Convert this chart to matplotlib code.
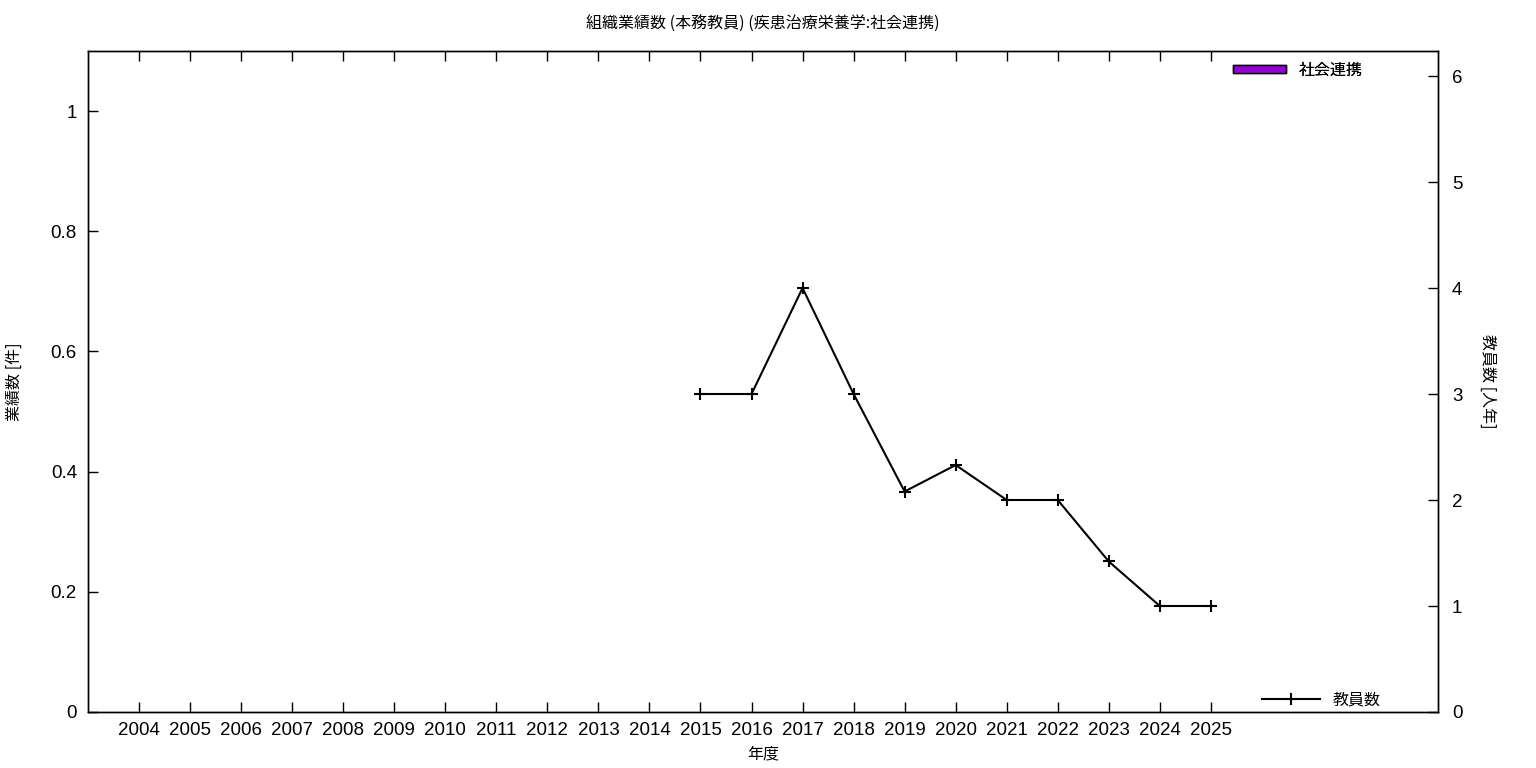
import numpy as np
import matplotlib.pyplot as plt
from matplotlib.patches import Patch
from matplotlib.lines import Line2D

plt.rcParams['font.family'] = ['Noto Sans CJK JP', 'DejaVu Sans']

years = [str(y) for y in range(2004, 2026)]
# 社会連携 output counts (all zero in this chart)
renkei = [0] * len(years)
# faculty count (person-years), from 2015 on
staff_years = ['2015', '2016', '2017', '2018', '2019', '2020', '2021', '2022', '2023', '2024', '2025']
staff = [3, 3, 4, 3, 2.08, 2.33, 2, 2, 1.42, 1, 1]

fig = plt.figure(figsize=(15.36, 7.68), dpi=100)
ax = fig.add_axes([88 / 1536, 1 - 712 / 768, (1438 - 88) / 1536, (712 - 51) / 768])
ax2 = ax.twinx()

num_font = ['Liberation Sans', 'DejaVu Sans']

x = np.arange(len(years))
ax.bar(x, renkei, width=0.5, color='#9400d3', edgecolor='none')
ax.set_xlim(-1, 25.45)
ax.set_ylim(0, 1.1)
ax.set_yticks([0, 0.2, 0.4, 0.6, 0.8, 1])
ax.set_yticklabels(['0', '0.2', '0.4', '0.6', '0.8', '1'], family=num_font)
ax.set_xticks(x)
ax.set_xticklabels(years, family=num_font)
ax.tick_params(axis='x', direction='in', length=7, top=True, labelsize=13.5, pad=7, width=1)
ax.tick_params(axis='y', direction='in', length=7, labelsize=13.5, pad=8, width=1)

sx = [years.index(y) for y in staff_years]
ax2.plot(sx, staff, color='black', linewidth=1.5, marker='+', markersize=8, markeredgewidth=1.5)
ax2.set_ylim(0, 6.236)
ax2.set_yticks(range(7))
ax2.set_yticklabels([str(v) for v in range(7)], family=num_font)
ax2.tick_params(axis='y', direction='in', length=7, labelsize=13.5, pad=10, width=1)

for a in (ax, ax2):
    for s in a.spines.values():
        s.set_linewidth(1)

ax.set_xlabel('年度', fontsize=11.5, labelpad=5)
ax.set_ylabel('業績数 [件]', fontsize=11.5, labelpad=20)
ax2.set_ylabel('教員数 [人年]', fontsize=11.5, rotation=-90, labelpad=24)
ax.set_title('組織業績数 (本務教員) (疾患治療栄養学:社会連携)', fontsize=11.5, pad=16)

leg1 = ax.legend(handles=[Patch(facecolor='#9400d3', edgecolor='black', linewidth=1, label='社会連携')],
                 loc='upper right', bbox_to_anchor=(0.955, 1.005), frameon=False,
                 fontsize=11.5, handlelength=3.3, handleheight=0.4, handletextpad=0.8)
ax.add_artist(leg1)
ax2.legend(handles=[Line2D([], [], color='black', linewidth=1.5, marker='+', markersize=8,
                           markeredgewidth=1.5, label='教員数')],
           loc='lower right', bbox_to_anchor=(0.968, -0.016), frameon=False,
           fontsize=11.5, handlelength=3.6, handletextpad=0.8)

fig.savefig('out.png', dpi=100)
